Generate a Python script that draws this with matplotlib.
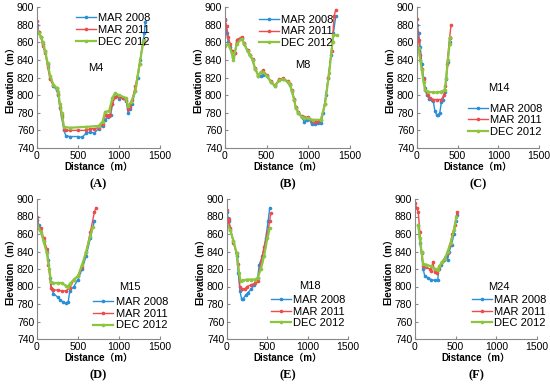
import matplotlib.pyplot as plt

# Datos de los perfiles (distancia m, elevación m)
stations = ['M4', 'M8', 'M14', 'M15', 'M18', 'M24']
panel_labels = ['(A)', '(B)', '(C)', '(D)', '(E)', '(F)']
series_names = ['MAR 2008', 'MAR 2011', 'DEC 2012']

m4_2008_x = [0, 20, 50, 70, 100, 130, 160, 200, 240, 260, 280, 300, 330, 350, 400, 500, 550, 600, 650, 700, 750, 800, 830, 860, 880, 900, 920, 950, 980, 1000, 1050, 1090, 1110, 1130, 1160, 1200, 1230, 1260, 1290, 1310, 1320]
m4_2008_y = [880, 872, 866, 858, 850, 835, 820, 810, 806, 800, 785, 775, 760, 754, 753, 753, 752, 757, 758, 757, 762, 765, 772, 775, 776, 778, 790, 798, 799, 796, 797, 793, 780, 784, 790, 805, 820, 840, 860, 870, 883]
m4_2011_x = [0, 20, 50, 70, 100, 130, 160, 200, 240, 260, 280, 300, 330, 350, 400, 500, 600, 650, 700, 750, 800, 830, 850, 870, 890, 920, 950, 1000, 1050, 1090, 1110, 1130, 1160, 1200, 1250, 1290, 1300]
m4_2011_y = [884, 872, 866, 856, 848, 832, 818, 811, 808, 801, 787, 777, 762, 760, 760, 760, 760, 762, 762, 763, 767, 777, 778, 776, 778, 790, 798, 798, 797, 795, 784, 786, 795, 810, 835, 858, 862]
m4_2012_x = [0, 20, 50, 70, 100, 130, 160, 200, 240, 260, 280, 300, 330, 400, 600, 750, 800, 830, 880, 920, 950, 1000, 1080, 1110, 1150, 1200, 1250, 1300]
m4_2012_y = [874, 870, 866, 860, 850, 836, 822, 812, 808, 803, 790, 780, 764, 763, 764, 765, 770, 781, 782, 797, 802, 800, 797, 788, 792, 805, 835, 862]

m8_2008_x = [0, 20, 40, 60, 80, 100, 120, 150, 200, 230, 270, 300, 330, 360, 400, 430, 460, 500, 550, 600, 650, 700, 750, 780, 800, 830, 850, 880, 920, 950, 980, 1000, 1040, 1080, 1120, 1150, 1180, 1210, 1240, 1270, 1300, 1330]
m8_2008_y = [885, 870, 860, 855, 850, 843, 848, 862, 865, 858, 850, 845, 840, 830, 822, 822, 823, 822, 815, 810, 817, 818, 815, 812, 805, 795, 785, 780, 775, 770, 772, 774, 767, 767, 768, 768, 780, 800, 820, 845, 870, 890]
m8_2011_x = [0, 20, 40, 60, 80, 100, 120, 140, 200, 230, 270, 300, 330, 360, 400, 430, 460, 500, 550, 600, 650, 700, 750, 780, 800, 830, 850, 880, 920, 950, 1000, 1040, 1080, 1120, 1150, 1200, 1240, 1280, 1310, 1330]
m8_2011_y = [886, 878, 866, 858, 850, 845, 848, 863, 866, 859, 851, 846, 841, 831, 823, 826, 828, 823, 816, 811, 818, 819, 816, 813, 806, 796, 786, 781, 776, 775, 775, 771, 770, 771, 772, 790, 820, 850, 890, 897]
m8_2012_x = [0, 40, 80, 100, 140, 200, 230, 270, 300, 330, 360, 400, 430, 460, 500, 550, 600, 650, 700, 750, 780, 800, 830, 850, 880, 920, 950, 1000, 1050, 1150, 1200, 1250, 1290, 1300, 1340]
m8_2012_y = [856, 858, 848, 840, 858, 864, 858, 850, 845, 840, 830, 822, 826, 826, 822, 815, 810, 817, 818, 815, 812, 805, 795, 785, 780, 775, 774, 774, 772, 772, 790, 825, 860, 868, 868]

m14_2008_x = [0, 20, 40, 60, 80, 100, 120, 150, 180, 200, 220, 240, 260, 280, 300, 320, 340, 360, 380, 400, 410]
m14_2008_y = [880, 870, 855, 835, 820, 808, 800, 796, 794, 793, 782, 778, 777, 780, 792, 795, 803, 818, 838, 860, 865]
m14_2011_x = [0, 20, 40, 60, 80, 100, 130, 160, 200, 250, 300, 330, 350, 370, 400, 420]
m14_2011_y = [886, 862, 845, 830, 818, 806, 800, 797, 795, 795, 795, 800, 810, 835, 865, 880]
m14_2012_x = [0, 20, 40, 60, 80, 100, 130, 200, 250, 300, 340, 360, 380, 400, 410]
m14_2012_y = [855, 853, 840, 828, 815, 806, 804, 803, 803, 804, 806, 820, 840, 858, 866]

m15_2008_x = [0, 20, 40, 80, 120, 140, 160, 180, 200, 250, 280, 320, 350, 380, 400, 450, 500, 550, 600, 650, 700]
m15_2008_y = [876, 870, 865, 852, 840, 830, 810, 797, 792, 788, 785, 782, 781, 782, 795, 800, 808, 820, 835, 855, 875]
m15_2011_x = [0, 20, 50, 80, 120, 140, 170, 200, 250, 300, 350, 400, 450, 500, 550, 600, 650, 700, 720]
m15_2011_y = [880, 867, 867, 855, 843, 825, 798, 796, 796, 795, 795, 798, 808, 812, 822, 840, 862, 885, 890]
m15_2012_x = [0, 50, 80, 120, 150, 170, 200, 250, 300, 350, 380, 400, 450, 500, 550, 600, 650, 680]
m15_2012_y = [870, 862, 852, 838, 820, 805, 804, 804, 804, 801, 800, 803, 808, 812, 825, 840, 858, 868]

m18_2008_x = [0, 20, 40, 80, 120, 140, 160, 180, 200, 230, 260, 300, 340, 380, 400, 440, 480, 510, 530]
m18_2008_y = [885, 875, 865, 852, 835, 815, 795, 786, 786, 790, 793, 797, 802, 810, 825, 835, 855, 875, 890]
m18_2011_x = [0, 10, 20, 40, 80, 120, 140, 160, 180, 220, 250, 300, 350, 380, 420, 460, 500, 530, 540]
m18_2011_y = [887, 870, 877, 867, 850, 838, 826, 800, 797, 797, 800, 802, 804, 806, 828, 845, 860, 875, 884]
m18_2012_x = [0, 40, 80, 120, 150, 170, 200, 250, 300, 350, 380, 420, 460, 500, 530]
m18_2012_y = [870, 865, 852, 838, 815, 806, 807, 808, 808, 808, 810, 820, 835, 855, 867]

m24_2008_x = [40, 60, 80, 100, 120, 160, 200, 240, 280, 290, 320, 360, 380, 400, 420, 450, 480, 500, 520]
m24_2008_y = [870, 850, 838, 820, 812, 810, 808, 807, 807, 820, 825, 830, 835, 830, 840, 848, 860, 875, 882]
m24_2011_x = [0, 20, 40, 60, 80, 100, 140, 180, 200, 220, 240, 270, 300, 330, 370, 400, 430, 460, 490, 520]
m24_2011_y = [895, 890, 885, 862, 840, 823, 822, 820, 818, 828, 817, 815, 822, 828, 833, 838, 848, 860, 870, 885]
m24_2012_x = [40, 60, 80, 100, 140, 200, 250, 280, 300, 330, 370, 400, 440, 480, 510]
m24_2012_y = [870, 855, 840, 826, 825, 823, 820, 819, 823, 828, 832, 840, 850, 865, 880]

datos = [
    [(m4_2008_x, m4_2008_y), (m4_2011_x, m4_2011_y), (m4_2012_x, m4_2012_y)],
    [(m8_2008_x, m8_2008_y), (m8_2011_x, m8_2011_y), (m8_2012_x, m8_2012_y)],
    [(m14_2008_x, m14_2008_y), (m14_2011_x, m14_2011_y), (m14_2012_x, m14_2012_y)],
    [(m15_2008_x, m15_2008_y), (m15_2011_x, m15_2011_y), (m15_2012_x, m15_2012_y)],
    [(m18_2008_x, m18_2008_y), (m18_2011_x, m18_2011_y), (m18_2012_x, m18_2012_y)],
    [(m24_2008_x, m24_2008_y), (m24_2011_x, m24_2011_y), (m24_2012_x, m24_2012_y)],
]

colores = ['#2b8fd8', '#ef4b4b', '#8cc63f']
anchos = [1.0, 1.0, 1.6]
fuente = ['Liberation Sans', 'Noto Sans CJK SC']
plt.rcParams['font.family'] = fuente

W, H = 550, 384
# posiciones de los ejes en píxeles (izq, der, arriba, abajo)
cajas = [(37, 160, 7, 148), (225, 350, 7, 148), (417, 539, 7, 148),
         (37, 160, 199, 339), (227, 348, 199, 339), (415, 537, 199, 339)]
# esquina sup. izq. de la leyenda y centro-izq. del rótulo (fracción de ejes)
leyendas = [(0.255, 1.01), (0.21, 1.0), (0.355, 0.37), (0.395, 0.355), (0.30, 0.37), (0.40, 0.37)]
rotulos = [(0.415, 0.57), (0.56, 0.59), (0.58, 0.425), (0.67, 0.37), (0.6, 0.38), (0.6, 0.37)]

fig = plt.figure(figsize=(W / 100, H / 100), dpi=100)
for i in range(6):
    l, r, t, b = cajas[i]
    ax = fig.add_axes([l / W, 1 - b / H, (r - l) / W, (b - t) / H])
    for j in range(3):
        x, y = datos[i][j]
        ax.plot(x, y, color=colores[j], lw=anchos[j], marker='o', ms=1.6,
                label=series_names[j])
    ax.set_xlim(0, 1500)
    ax.set_ylim(740, 900)
    ax.set_xticks([0, 500, 1000, 1500])
    ax.set_yticks(range(740, 901, 20))
    ax.tick_params(labelsize=7.5, direction='in', length=2, color='#888888', pad=2)
    for s in ['top', 'right']:
        ax.spines[s].set_visible(False)
    for s in ['left', 'bottom']:
        ax.spines[s].set_color('#888888')
        ax.spines[s].set_linewidth(0.8)
    ax.set_xlabel('Distance（m）', fontsize=7, fontweight='bold', labelpad=1)
    ax.set_ylabel('Elevation（m）', fontsize=7, fontweight='bold', labelpad=1)
    ax.legend(loc='upper left', bbox_to_anchor=leyendas[i], frameon=False,
              fontsize=8, handlelength=1.8, borderpad=0.2, labelspacing=0.15,
              handletextpad=0.2)
    ax.text(rotulos[i][0], rotulos[i][1], stations[i], transform=ax.transAxes,
            fontsize=8, va='center')
    fig.text((l + r) / 2 / W, 1 - (b + 36) / H, panel_labels[i], ha='center',
             va='center', fontsize=9, fontweight='bold', family='Liberation Serif')

fig.savefig('out.png', dpi=100)
